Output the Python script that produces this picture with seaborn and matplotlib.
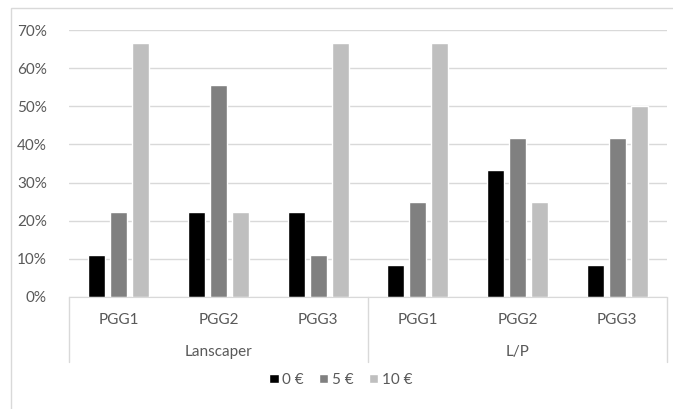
import pandas as pd
import matplotlib.pyplot as plt
import seaborn as sns
from matplotlib.patches import Rectangle

# ------------------------------
# Data (shares)
# ------------------------------
groups = ["Lanscaper", "Lanscaper", "Lanscaper", "L/P", "L/P", "L/P"]
games = ["PGG1", "PGG2", "PGG3", "PGG1", "PGG2", "PGG3"]
series = ["0 €", "5 €", "10 €"]
share_0 = [0.111, 0.222, 0.222, 0.083, 0.333, 0.083]
share_5 = [0.222, 0.556, 0.111, 0.250, 0.417, 0.417]
share_10 = [0.667, 0.222, 0.667, 0.667, 0.250, 0.500]
colors = ["#000000", "#808080", "#bfbfbf"]

cats = [g + "|" + p for g, p in zip(groups, games)]
df = pd.DataFrame({
    "cat": cats * 3,
    "amount": [series[0]] * 6 + [series[1]] * 6 + [series[2]] * 6,
    "share": share_0 + share_5 + share_10,
})

# ------------------------------
# Plot
# ------------------------------
sns.set_style("white")
plt.rcParams["font.family"] = ["Lato", "DejaVu Sans"]
text_col = "#595959"
line_col = "#d9d9d9"
fs = 11

fig = plt.figure(figsize=(6.73, 4.09), dpi=100)
ax = fig.add_axes([69 / 673, 1 - 297 / 409, 598 / 673, 267 / 409])

# outer chart border
fig.patches.append(Rectangle((11 / 673, -0.05), 1.0, 1 - 8 / 409 + 0.05,
                             transform=fig.transFigure, fill=False,
                             edgecolor=line_col, linewidth=1))

sns.barplot(data=df, x="cat", y="share", hue="amount", order=cats,
            hue_order=series, palette=colors, width=0.66, gap=0.22,
            saturation=1, ax=ax, legend=True)

ax.set_ylim(0, 0.7)
ax.set_xlim(-0.5, 5.5)
ax.set_yticks([i / 10 for i in range(8)])
ax.set_yticklabels([f"{i * 10}%" for i in range(8)], color=text_col, fontsize=fs)
ax.tick_params(axis="y", length=0, pad=16)
ax.set_xticks([])
ax.set_xlabel("")
ax.set_ylabel("")
ax.yaxis.grid(True, color=line_col, linewidth=1)
ax.set_axisbelow(True)
for s in ["top", "right", "left"]:
    ax.spines[s].set_visible(False)
ax.spines["bottom"].set_color(line_col)

# two-level category axis
tr = ax.get_xaxis_transform()
for i, p in enumerate(games):
    ax.text(i, -0.086, p, transform=tr, ha="center", va="center",
            fontsize=fs, color=text_col)
ax.text(1, -0.206, "Lanscaper", transform=tr, ha="center", va="center",
        fontsize=fs, color=text_col)
ax.text(4, -0.206, "L/P", transform=tr, ha="center", va="center",
        fontsize=fs, color=text_col)
for xv in [-0.5, 2.5, 5.5]:
    ax.plot([xv, xv], [0, -0.243], transform=tr, color=line_col,
            linewidth=1, clip_on=False)

# legend
handles, labels = ax.get_legend_handles_labels()
ax.get_legend().remove()
fig.legend(handles, labels, loc="center", bbox_to_anchor=(341 / 673, 1 - 380 / 409),
           ncol=3, frameon=False, fontsize=fs, handlelength=0.6,
           handleheight=0.6, handletextpad=0.25, columnspacing=1.0,
           labelcolor=text_col)

fig.savefig("out.png", dpi=100)
